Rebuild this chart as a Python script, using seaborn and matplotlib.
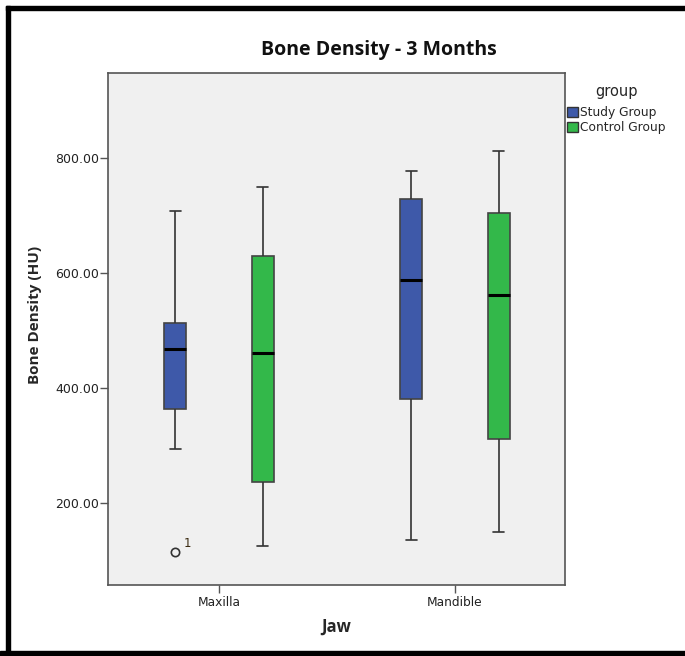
import numpy as np
import pandas as pd
import matplotlib
matplotlib.use("Agg")
import matplotlib.pyplot as plt
from matplotlib.patches import Rectangle, Patch
import seaborn as sns

# Five-number summaries per jaw / group (HU)
jaws = ["Maxilla", "Mandible"]
groups = ["Study Group", "Control Group"]
lower_whisker = {"Study Group": [294.3, 135.3], "Control Group": [124.8, 149.7]}
q1 = {"Study Group": [363.9, 380.8], "Control Group": [235.7, 311.1]}
median = {"Study Group": [468.4, 588.1], "Control Group": [461.4, 561.9]}
q3 = {"Study Group": [512.6, 728.6], "Control Group": [629.3, 705.3]}
upper_whisker = {"Study Group": [708.7, 778.4], "Control Group": [749.5, 812.7]}
low_outliers = {"Study Group": [[114.9], []], "Control Group": [[], []]}
outlier_case_ids = {"Study Group": [["1"], []], "Control Group": [[], []]}

palette = {"Study Group": "#3E59A9", "Control Group": "#33B84A"}
yticks = [200, 400, 600, 800]


def summary_sample(lo, a, m, b, hi, outs):
    """Sorted sample of size 4k+1 whose quartiles are exactly a, m, b."""
    k = max(1, len(outs) + 1)
    below = list(outs) + [lo] * (k - len(outs))
    return below + [a] * k + [m] * k + [b] + [hi] * k


rows = []
for g in groups:
    for i, j in enumerate(jaws):
        vals = summary_sample(lower_whisker[g][i], q1[g][i], median[g][i],
                              q3[g][i], upper_whisker[g][i], low_outliers[g][i])
        rows += [{"Jaw": j, "group": g, "HU": v} for v in vals]
df = pd.DataFrame(rows)

sns.set_style("white")
plt.rcParams["font.family"] = ["DejaVu Sans"]
bold_family = ["Open Sans", "DejaVu Sans"]

W, H = 685, 656
fig = plt.figure(figsize=(W / 100, H / 100), dpi=100)
ax = fig.add_axes([108 / W, 1 - 585 / H, 457 / W, 512 / H])
ax.set_facecolor("#F0F0F0")

box_width, box_gap = 0.74, 0.75
sns.boxplot(data=df, x="Jaw", y="HU", hue="group", order=jaws, hue_order=groups,
            palette=palette, width=box_width, gap=box_gap, whis=1.5, saturation=1,
            linewidth=1.2, linecolor="#444444",
            medianprops=dict(color="black", linewidth=2.2),
            whiskerprops=dict(color="#333333", linewidth=1.2),
            capprops=dict(color="#333333", linewidth=1.2),
            flierprops=dict(marker="o", markersize=6, markerfacecolor="none",
                            markeredgecolor="#333333", markeredgewidth=1.2),
            legend=False, ax=ax)

# case labels beside outliers
for gi, g in enumerate(groups):
    for i, j in enumerate(jaws):
        for v, lab in zip(low_outliers[g][i], outlier_case_ids[g][i]):
            xo = i + (gi - 0.5) * box_width / 2
            ax.annotate(lab, (xo, v), xytext=(6, 3), textcoords="offset points",
                        fontsize=8.5, color="#3a2a10")

ax.set_xlim(-0.470, 1.466)
ax.set_ylim(56.7, 948.6)
ax.set_yticks(yticks)
ax.set_yticklabels([f"{t:.2f}" for t in yticks], fontsize=9)
ax.set_xticks([0, 1])
ax.set_xticklabels(jaws, fontsize=8.8)
ax.tick_params(axis="both", length=5.5, width=1, color="#555555", direction="out",
               left=True, bottom=True, labelcolor="#222222")
ax.tick_params(axis="y", pad=1)
ax.tick_params(axis="x", pad=2.5)
for s in ax.spines.values():
    s.set_color("#555555")
    s.set_linewidth(1.2)
ax.set_xlabel("Jaw", fontsize=12, fontweight="bold", family=bold_family,
              labelpad=6)
ax.set_ylabel("Bone Density (HU)", fontsize=11, fontweight="bold",
              family=bold_family)
ax.yaxis.set_label_coords(-0.145, 0.527)
fig.text(379 / W, 1 - 50 / H, "Bone Density - 3 Months", fontsize=14,
         fontweight="bold", family=bold_family, ha="center", va="center",
         color="#111111")

handles = [Patch(facecolor=palette[g], edgecolor="#333333", linewidth=1, label=g)
           for g in groups]
leg = fig.legend(handles=handles, title="group", loc="upper left",
                 bbox_to_anchor=(567 / W, 1 - 84 / H), frameon=False,
                 fontsize=8.8, title_fontsize=10.5, handlelength=0.9,
                 handleheight=0.9, handletextpad=0.15, labelspacing=0.2,
                 borderpad=0, borderaxespad=0)
leg._legend_box.sep = 5

# black frame around the figure
for x, y, w, h in [(6, 646, 679, 4), (6, 0, 4, 650), (0, 0, 685, 5)]:
    fig.patches.append(Rectangle((x / W, y / H), w / W, h / H,
                                 transform=fig.transFigure, color="black",
                                 zorder=10))

fig.savefig("out.png", dpi=100)
